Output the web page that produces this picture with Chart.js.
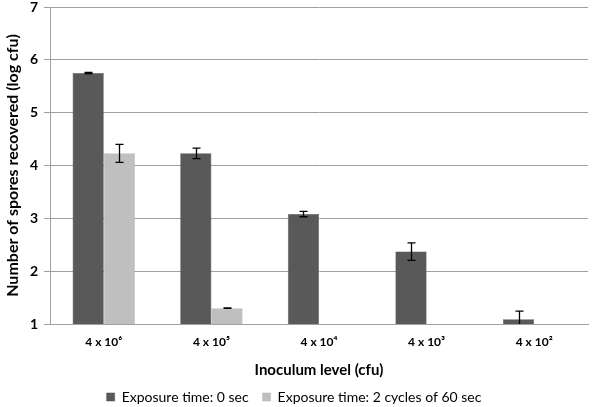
<!DOCTYPE html>
<html>
<head>
<meta charset="utf-8">
<script src="https://cdn.jsdelivr.net/npm/chart.js@4.4.1/dist/chart.umd.min.js"></script>
<style>
  html, body { margin: 0; padding: 0; background: #fff; }
  #wrap { width: 600px; height: 407px; }
</style>
</head>
<body>
<div id="wrap"><canvas id="myChart"></canvas></div>
<script>
// data
var levels = ["4 x 10\u2076", "4 x 10\u2075", "4 x 10\u2074", "4 x 10\u00B3", "4 x 10\u00B2"];
var zeroSec = [5.75, 4.23, 3.08, 2.37, 1.09];
var zeroSecErr = [0.01, 0.10, 0.05, 0.165, 0.155];
var twoCycles = [4.23, 1.30, null, null, null];
var twoCyclesErr = [0.17, 0.005, null, null, null];
var yTicks = [1, 2, 3, 4, 5, 6, 7];

var errors = [zeroSecErr, twoCyclesErr];
var gridGrey = "#a0a0a0";

// little error bar plugin
var errorBars = {
  id: "errorBars",
  afterDatasetsDraw: function(chart) {
    var ctx = chart.ctx;
    var y = chart.scales.y;
    ctx.save();
    ctx.strokeStyle = "#000";
    ctx.lineWidth = 1.3;
    chart.data.datasets.forEach(function(ds, i) {
      var meta = chart.getDatasetMeta(i);
      meta.data.forEach(function(bar, j) {
        var v = ds.data[j], e = errors[i][j];
        if (v == null || e == null) return;
        var top = y.getPixelForValue(v + e);
        var bot = y.getPixelForValue(Math.max(v - e, y.min));
        var x = Math.round(bar.x) + 0.5;
        ctx.beginPath();
        ctx.moveTo(x, top); ctx.lineTo(x, bot);
        ctx.moveTo(x - 4, top); ctx.lineTo(x + 4, top);
        if (v - e > y.min) { ctx.moveTo(x - 4, bot); ctx.lineTo(x + 4, bot); }
        ctx.stroke();
      });
    });
    ctx.restore();
  }
};

// legend: keep its box short
var legendHeight = {
  id: "legendHeight",
  beforeInit: function(chart) {
    var fit = chart.legend.fit;
    chart.legend.fit = function() {
      fit.bind(chart.legend)();
      this.height = 31;
    };
  }
};

new Chart("myChart", {
  type: "bar",
  data: {
    labels: levels,
    datasets: [{
      label: "Exposure time: 0 sec",
      data: zeroSec,
      backgroundColor: "#595959",
      borderColor: "#4a4a4a",
      borderWidth: 0.5
    }, {
      label: "Exposure time: 2 cycles of 60 sec",
      data: twoCycles,
      backgroundColor: "#bfbfbf",
      borderColor: "#b5b5b5",
      borderWidth: 0.5
    }]
  },
  plugins: [errorBars, legendHeight],
  options: {
    responsive: true,
    maintainAspectRatio: false,
    animation: false,
    layout: { padding: { top: 0, right: 12, left: 0, bottom: 0 } },
    datasets: { bar: { categoryPercentage: 0.58, barPercentage: 1 } },
    plugins: {
      tooltip: { enabled: false },
      legend: {
        position: "bottom",
        labels: {
          boxWidth: 8,
          boxHeight: 8,
          padding: 14,
          color: "#000",
          font: { family: "Lato", size: 14 }
        }
      }
    },
    scales: {
      x: {
        grid: { display: false },
        border: { display: true, color: gridGrey, width: 1 },
        ticks: { color: "#000", padding: 3, font: { family: "Lato", size: 12, weight: "bold" } },
        title: {
          display: true,
          text: "Inoculum level (cfu)",
          color: "#000",
          font: { family: "Lato", size: 15, weight: "bold" },
          padding: { top: 0, bottom: -3 }
        },
        afterFit: function(s) { s.height = 52; }
      },
      y: {
        min: 1,
        max: 7,
        afterBuildTicks: function(s) {
          s.ticks = yTicks.map(function(v) { return { value: v }; });
        },
        grid: { color: gridGrey, tickLength: 6 },
        border: { display: true, color: gridGrey, width: 1 },
        ticks: { color: "#000", padding: 6, font: { family: "Lato", size: 14, weight: "bold" } },
        title: {
          display: true,
          text: "Number of spores recovered (log cfu)",
          color: "#000",
          font: { family: "Lato", size: 16, weight: "bold" },
          padding: { top: 3, bottom: 0 }
        },
        afterFit: function(s) { s.width = 50; s.paddingTop = 7; }
      }
    }
  }
});
</script>
</body>
</html>
